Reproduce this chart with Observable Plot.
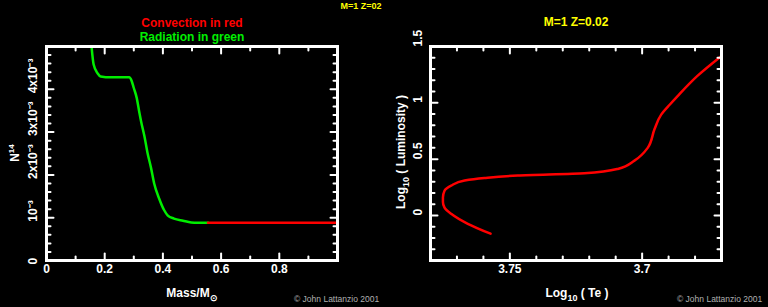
<!DOCTYPE html>
<html><head><meta charset="utf-8">
<script src="https://cdn.jsdelivr.net/npm/d3@7"></script>
<script src="https://cdn.jsdelivr.net/npm/@observablehq/plot@0.6"></script>
<style>
html,body{margin:0;padding:0;background:#000;}
#wrap{display:flex;width:768px;height:307px;background:#000;overflow:hidden;}
svg{font-family:"Liberation Sans",Arial,sans-serif;}
</style></head>
<body><div id="wrap"></div>
<script>
// ---- Left panel: N14 profile vs mass ----
const massRad = [0.155,0.162,0.176,0.186,0.221,0.284,0.293,0.300,0.310,0.318,0.326,0.336,0.347,0.359,0.370,0.387,0.404,0.417,0.438,0.469,0.497,0.555];
const n14Rad  = [0.00498,0.00458,0.00437,0.00430,0.00428,0.00428,0.00419,0.00403,0.00380,0.00350,0.00322,0.00292,0.00252,0.00217,0.00180,0.00145,0.00118,0.00105,0.00098,0.00093,0.00089,0.00088];
const massConv = [0.555,1.0];
const n14Conv  = [0.00088,0.00088];
const massMajor = [0,0.2,0.4,0.6,0.8];
const massMajorLabels = ["0","0.2","0.4","0.6","0.8"];
const massMinor = [0.1,0.3,0.5,0.7,0.9];
const nMajor = [0,0.001,0.002,0.003,0.004];
const nMajorLabels = ["0","10\u207B\u00B3","2x10\u207B\u00B3","3x10\u207B\u00B3","4x10\u207B\u00B3"];
const nMinor = [0.0002,0.0004,0.0006,0.0008,0.0012,0.0014,0.0016,0.0018,0.0022,0.0024,0.0026,0.0028,0.0032,0.0034,0.0036,0.0038,0.0042,0.0044,0.0046,0.0048];

// ---- Right panel: HR track ----
const logTe = [3.7573,3.7659,3.7722,3.7747,3.7753,3.7753,3.7747,3.7722,3.7671,3.7596,3.7470,3.7218,3.7092,3.7029,3.6979,3.6953,3.6928,3.6895,3.6865,3.6791,3.6700];
const logL  = [-0.162,-0.074,0.015,0.070,0.120,0.160,0.220,0.265,0.310,0.333,0.354,0.374,0.413,0.487,0.600,0.767,0.895,0.985,1.062,1.239,1.416];
const teMajor = [3.75,3.7];
const teMajorLabels = ["3.75","3.7"];
const teMinor = [3.77,3.76,3.74,3.73,3.72,3.71,3.69,3.68];
const lMajor = [0,0.5,1,1.5];
const lMajorLabels = ["0","0.5","1","1.5"];
const lMinor = [-0.3,-0.2,-0.1,0.1,0.2,0.3,0.4,0.6,0.7,0.8,0.9,1.1,1.2,1.3,1.4];

const tickShape = {draw(ctx, l){ ctx.moveTo(0,0); ctx.lineTo(0,-l); }};
function ticks(xs, ys, xMinor, yMinor){
  const o = {stroke:"white", strokeWidth:2, shape:tickShape, anchor:"start"};
  return [
    Plot.vectorX(xs, {...o, x:d=>d, frameAnchor:"bottom", length:7, rotate:0}),
    Plot.vectorX(xMinor, {...o, x:d=>d, frameAnchor:"bottom", length:4, rotate:0}),
    Plot.vectorX(xs, {...o, x:d=>d, frameAnchor:"top", length:7, rotate:180}),
    Plot.vectorX(xMinor, {...o, x:d=>d, frameAnchor:"top", length:4, rotate:180}),
    Plot.vectorY(ys, {...o, y:d=>d, frameAnchor:"left", length:7, rotate:90}),
    Plot.vectorY(yMinor, {...o, y:d=>d, frameAnchor:"left", length:4, rotate:90}),
    Plot.vectorY(ys, {...o, y:d=>d, frameAnchor:"right", length:7, rotate:-90}),
    Plot.vectorY(yMinor, {...o, y:d=>d, frameAnchor:"right", length:4, rotate:-90})
  ];
}
const lbl = {fill:"white", fontWeight:"bold", fontSize:12, fontFamily:"Liberation Sans, Arial, sans-serif"};
const common = {width:384, height:307, marginLeft:46, marginRight:47, marginTop:46, marginBottom:47,
  style:{background:"#000", color:"white", overflow:"visible"}};

const left = Plot.plot({
  ...common,
  x:{domain:[0,1], axis:null},
  y:{domain:[0,0.005], axis:null},
  marks:[
    Plot.line(massRad.map((m,i)=>({m, n:n14Rad[i]})), {x:"m", y:"n", stroke:"#00ee00", strokeWidth:2.5, curve:"monotone-x", clip:true}),
    Plot.line(massConv.map((m,i)=>({m, n:n14Conv[i]})), {x:"m", y:"n", stroke:"#ff0000", strokeWidth:2.5, clip:true}),
    ...ticks(massMajor, nMajor, massMinor, nMinor),
    Plot.frame({stroke:"white", strokeWidth:3}),
    Plot.text(massMajor, {...lbl, x:d=>d, text:(d,i)=>massMajorLabels[i], frameAnchor:"bottom", dy:12}),
    Plot.text(nMajor, {...lbl, y:d=>d, text:(d,i)=>nMajorLabels[i], frameAnchor:"left", dx:-13, dy:4, rotate:-90})
  ]
});

const right = Plot.plot({
  ...common,
  x:{domain:[3.78,3.67], axis:null},
  y:{domain:[-0.4,1.5], axis:null},
  marks:[
    Plot.line(logTe.map((t,i)=>({t, l:logL[i]})), {x:"t", y:"l", stroke:"#ff0000", strokeWidth:2.5, curve:"monotone-y", clip:true}),
    ...ticks(teMajor, lMajor, teMinor, lMinor),
    Plot.frame({stroke:"white", strokeWidth:3}),
    Plot.text(teMajor, {...lbl, x:d=>d, text:(d,i)=>teMajorLabels[i], frameAnchor:"bottom", dy:12}),
    Plot.text(lMajor, {...lbl, y:d=>d, text:(d,i)=>lMajorLabels[i], frameAnchor:"left", dx:-12, rotate:-90})
  ]
});

const wrap = document.getElementById("wrap");
wrap.append(left, right);

function addText(svg, x, y, parts, opts){
  const t = d3.select(svg).append("text")
    .attr("x", x).attr("y", y)
    .attr("text-anchor", opts.anchor || "middle")
    .attr("fill", opts.fill || "white")
    .attr("font-weight", opts.weight || "bold")
    .attr("font-size", opts.size || 12)
    .attr("font-family", "Liberation Sans, Arial, sans-serif");
  if (opts.rotate) t.attr("transform", `rotate(${opts.rotate},${x},${y})`);
  parts.forEach(p => {
    const s = t.append("tspan").text(p.t);
    if (p.dy) s.attr("dy", p.dy);
    if (p.size) s.attr("font-size", p.size);
  });
}
// Left texts
addText(left, 192, 27, [{t:"Convection in red"}], {fill:"#ff0000"});
addText(left, 192, 41, [{t:"Radiation in green"}], {fill:"#00ee00"});
addText(left, 361, 9, [{t:"M=1 Z=02"}], {fill:"#ffff00", size:9});
addText(left, 192, 297, [{t:"Mass/M"},{t:"\u2299", dy:4, size:9}], {});
addText(left, 294, 302, [{t:"\u00A9 John Lattanzio 2001"}], {fill:"#b0b0b0", weight:"normal", size:8.5, anchor:"start"});
addText(left, 19, 153, [{t:"N"},{t:"14", dy:-5, size:8}], {rotate:-90});
// Right texts
addText(right, 192, 26, [{t:"M=1 Z=0.02"}], {fill:"#ffff00"});
addText(right, 193, 297, [{t:"Log"},{t:"10", dy:4, size:9},{t:" ( Te )", dy:-4}], {});
addText(right, 293, 302, [{t:"\u00A9 John Lattanzio 2001"}], {fill:"#b0b0b0", weight:"normal", size:8.5, anchor:"start"});
addText(right, 21, 152, [{t:"Log"},{t:"10", dy:4, size:9},{t:" ( Luminosity )", dy:-4}], {rotate:-90});
</script>
</body></html>
